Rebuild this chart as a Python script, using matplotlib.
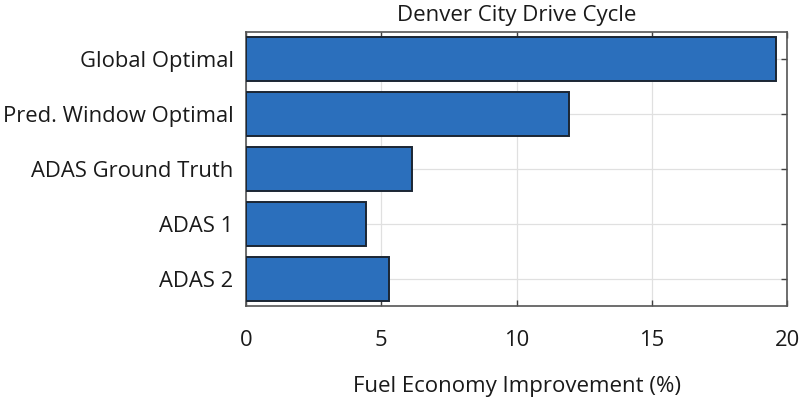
import numpy as np
import matplotlib.pyplot as plt

names = ["Global Optimal", "Pred. Window Optimal", "ADAS Ground Truth", "ADAS 1", "ADAS 2"]
improvement = [19.6, 11.95, 6.15, 4.45, 5.3]

plt.rcParams['font.family'] = ['Open Sans', 'DejaVu Sans']

fig = plt.figure(figsize=(8, 3.98), dpi=100)
ax = fig.add_axes([0.3075, 0.2312, 0.984 - 0.3075, 0.9196 - 0.2312])

# top bar first, like the original
y = np.arange(len(names), 0, -1)
ax.barh(y, improvement, height=0.8, color="#2b6fbc", edgecolor="#1b2633", linewidth=1.4, zorder=3)

ax.set_yticks(y)
ax.set_yticklabels(names)
ax.set_ylim(0.5, 5.5)
ax.set_xlim(0, 20)
ax.set_xticks([0, 5, 10, 15, 20])

ax.grid(True, color="#e0e0e0", linewidth=0.9, zorder=0)
ax.tick_params(direction="in", length=4, width=1, colors="#404040", top=True, right=True,
               labelsize=15.8, labelcolor="#1a1a1a")
ax.tick_params(axis="x", pad=17)
ax.tick_params(axis="y", pad=9)
for s in ax.spines.values():
    s.set_color("#555555")
    s.set_linewidth(1.2)

ax.set_title("Denver City Drive Cycle", fontsize=16, color="#1a1a1a", pad=8)
ax.set_xlabel("Fuel Economy Improvement (%)", fontsize=16, color="#1a1a1a", labelpad=18)

fig.savefig("out.png", dpi=100)
